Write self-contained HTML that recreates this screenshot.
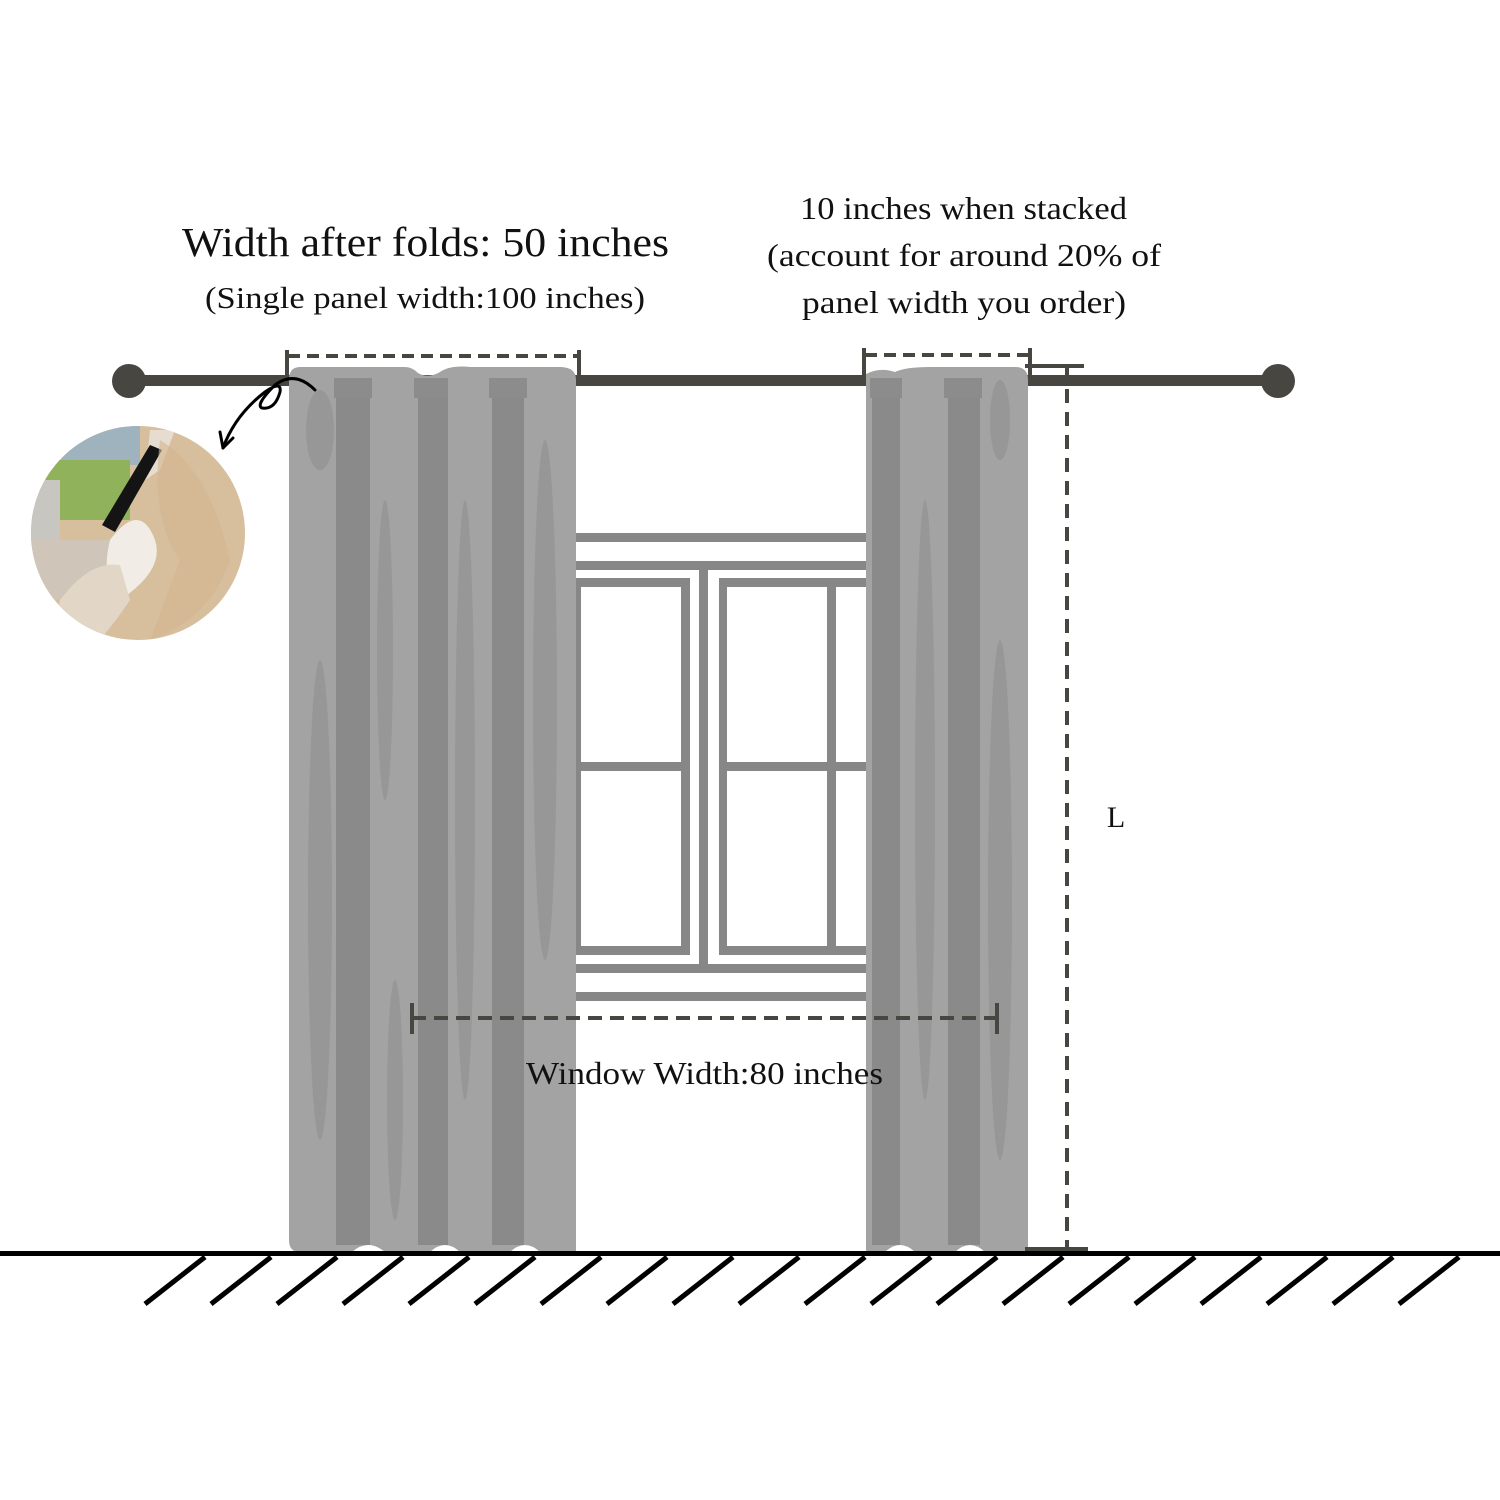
<!DOCTYPE html>
<html><head><meta charset="utf-8"><style>
html,body{margin:0;padding:0;background:#fff;}
svg{display:block}
text{font-family:"Liberation Serif",serif;fill:#111}
</style></head><body>
<svg width="1500" height="1500" viewBox="0 0 1500 1500" xmlns="http://www.w3.org/2000/svg">
<rect width="1500" height="1500" fill="#fff"/>
<!-- texts -->
<text x="182" y="256" font-size="41" textLength="487" lengthAdjust="spacingAndGlyphs">Width after folds: 50 inches</text>
<text x="205" y="308" font-size="31" textLength="440" lengthAdjust="spacingAndGlyphs">(Single panel width:100 inches)</text>
<text x="800" y="219" font-size="32" textLength="327" lengthAdjust="spacingAndGlyphs">10 inches when stacked</text>
<text x="767" y="266" font-size="32" textLength="394" lengthAdjust="spacingAndGlyphs">(account for around 20% of</text>
<text x="802" y="313" font-size="32" textLength="324" lengthAdjust="spacingAndGlyphs">panel width you order)</text>
<text x="1116" y="827" font-size="30" text-anchor="middle">L</text>

<!-- window -->
<g fill="#878787">
<rect x="570" y="533" width="300" height="9"/>
<rect x="570" y="561" width="300" height="9"/>
<rect x="699" y="569" width="9" height="396"/>
<rect x="570" y="964" width="300" height="9"/>
<rect x="570" y="992" width="300" height="9"/>
<path d="M574 578 H690 V955 H574 Z M581 587 V946 H681 V587 Z" fill-rule="evenodd"/>
<rect x="576" y="762" width="110" height="9"/>
<path d="M719 578 H870 V955 H719 Z M727 587 V946 H866 V587 Z" fill-rule="evenodd"/>
<rect x="722" y="762" width="148" height="9"/>
<rect x="827" y="580" width="9" height="370"/>
</g>

<!-- rod -->
<rect x="128" y="375" width="1150" height="11" fill="#484641"/>
<circle cx="129" cy="381" r="17" fill="#484641"/>
<circle cx="1278" cy="381" r="17" fill="#484641"/>

<!-- left curtain -->
<g>
<path d="M289 380 Q289 367 300 367 L405 367 Q412 367 418 373 Q428 379 440 372 Q450 365 470 367 L560 367 Q576 367 576 380 L576 1252 L540 1252 Q525 1238 510 1252 L460 1252 Q445 1238 430 1252 L385 1252 Q368 1238 352 1252 L300 1252 Q289 1252 289 1240 Z" fill="#a3a3a3"/>
<rect x="336" y="395" width="34" height="850" fill="#8a8a8a"/>
<rect x="418" y="395" width="30" height="850" fill="#8a8a8a"/>
<rect x="492" y="395" width="32" height="850" fill="#8a8a8a"/>
<rect x="334" y="378" width="38" height="20" fill="#8c8c8c"/>
<rect x="414" y="378" width="34" height="20" fill="#8c8c8c"/>
<rect x="489" y="378" width="38" height="20" fill="#8c8c8c"/>
<g fill="#979797">
<ellipse cx="320" cy="900" rx="12" ry="240"/>
<ellipse cx="385" cy="650" rx="8" ry="150"/>
<ellipse cx="465" cy="800" rx="10" ry="300"/>
<ellipse cx="545" cy="700" rx="12" ry="260"/>
<ellipse cx="320" cy="430" rx="14" ry="40"/>
<ellipse cx="395" cy="1100" rx="8" ry="120"/>
</g>
</g>

<!-- right curtain -->
<g>
<path d="M866 374 Q880 367 895 372 Q905 367 930 367 L1015 367 Q1028 367 1028 380 L1028 1252 L985 1252 Q970 1238 955 1252 L915 1252 Q900 1238 885 1252 L866 1252 Z" fill="#a3a3a3"/>
<rect x="872" y="395" width="28" height="850" fill="#8a8a8a"/>
<rect x="948" y="395" width="32" height="850" fill="#8a8a8a"/>
<rect x="870" y="378" width="32" height="20" fill="#8c8c8c"/>
<rect x="944" y="378" width="38" height="20" fill="#8c8c8c"/>
<g fill="#979797">
<ellipse cx="925" cy="800" rx="10" ry="300"/>
<ellipse cx="1000" cy="900" rx="12" ry="260"/>
<ellipse cx="1000" cy="420" rx="10" ry="40"/>
</g>
</g>

<!-- dimension lines -->
<g stroke="#484641" stroke-width="4" fill="none">
<path d="M288 356 H578" stroke-dasharray="12 7"/>
<path d="M287 350 V378 M579 350 V378"/>
<path d="M865 355 H1030" stroke-dasharray="12 7"/>
<path d="M864 348 V380 M1030 348 V380"/>
<path d="M1025 366 H1084"/>
<path d="M1067 366 V1248" stroke-dasharray="14 9"/>
<path d="M1025 1249 H1088"/>
<path d="M412 1018 H997" stroke-dasharray="14 8"/>
<path d="M412 1003 V1034 M997 1003 V1034"/>
</g>
<text x="526" y="1084" font-size="32" textLength="357" lengthAdjust="spacingAndGlyphs">Window Width:80 inches</text>

<!-- floor -->
<rect x="0" y="1251" width="1500" height="5" fill="#000"/>
<g stroke="#000" stroke-width="5">
<path d="M145 1304 L205 1257 M211 1304 L271 1257 M277 1304 L337 1257 M343 1304 L403 1257 M409 1304 L469 1257 M475 1304 L535 1257 M541 1304 L601 1257 M607 1304 L667 1257 M673 1304 L733 1257 M739 1304 L799 1257 M805 1304 L865 1257 M871 1304 L931 1257 M937 1304 L997 1257 M1003 1304 L1063 1257 M1069 1304 L1129 1257 M1135 1304 L1195 1257 M1201 1304 L1261 1257 M1267 1304 L1327 1257 M1333 1304 L1393 1257 M1399 1304 L1459 1257"/>
</g>

<!-- photo circle -->
<defs><clipPath id="c"><circle cx="138" cy="533" r="107"/></clipPath></defs>
<g clip-path="url(#c)">
<rect x="30" y="420" width="220" height="230" fill="#d7bf9e"/>
<rect x="30" y="420" width="110" height="45" fill="#9fb3bf"/>
<rect x="30" y="460" width="100" height="60" fill="#8fb25a"/>
<rect x="30" y="480" width="30" height="70" fill="#c8c6c0"/>
<path d="M30 540 L120 540 L110 600 L30 600 Z" fill="#cfc5b8"/>
<path d="M150 430 L175 430 L160 470 L145 480 Z" fill="#e6ddd0"/>
<path d="M110 540 Q140 500 155 540 Q165 570 120 600 Q100 580 110 540 Z" fill="#f1ede6"/>
<path d="M60 600 Q90 560 120 565 L130 600 Q110 630 90 650 L50 650 Z" fill="#e2d6c6"/>
<path d="M150 445 L162 450 L115 532 L102 525 Z" fill="#141414"/>
<path d="M160 440 Q210 470 230 560 Q210 620 150 640 L180 560 Q150 520 160 440 Z" fill="#d3b58d" opacity="0.6"/>
</g>

<!-- curly arrow -->
<g stroke="#000" stroke-width="3" fill="none" stroke-linecap="round">
<path d="M315 390 Q295 370 275 385 Q255 405 262 408 Q275 410 280 392 Q282 380 265 392 Q235 415 223 448"/>
<path d="M223 448 L220 432 M223 448 L233 438"/>
</g>
</svg>
</body></html>
